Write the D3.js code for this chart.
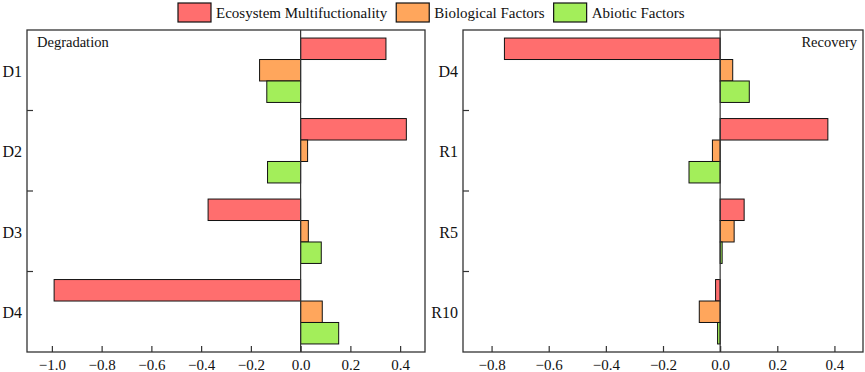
<!DOCTYPE html>
<html>
<head>
<meta charset="utf-8">
<script src="https://cdn.jsdelivr.net/npm/d3@7"></script>
<style>
  body { margin: 0; background: #fff; }
  svg text { font-family: "Liberation Serif", "Times New Roman", serif; fill: #111; }
</style>
</head>
<body>
<div id="chart-area"></div>
<script>
// Series names and colours
var seriesNames = ["Ecosystem Multifuctionality", "Biological Factors", "Abiotic Factors"];
var seriesColors = ["#ff6e6e", "#ffa65c", "#a3ee5a"];

// Degradation panel
var degCats = ["D1", "D2", "D3", "D4"];
var degEM = [0.343, 0.425, -0.372, -0.991];
var degBio = [-0.165, 0.028, 0.031, 0.087];
var degAbio = [-0.136, -0.133, 0.083, 0.153];
var degTicks = [-1.0, -0.8, -0.6, -0.4, -0.2, 0.0, 0.2, 0.4];

// Recovery panel
var recCats = ["D4", "R1", "R5", "R10"];
var recEM = [-0.755, 0.377, 0.084, -0.016];
var recBio = [0.044, -0.027, 0.049, -0.073];
var recAbio = [0.102, -0.109, 0.007, -0.009];
var recTicks = [-0.8, -0.6, -0.4, -0.2, 0.0, 0.2, 0.4];

var W = 865, H = 372;

var svg = d3.select("#chart-area")
    .append("svg")
    .attr("width", W)
    .attr("height", H);

function drawPanel(opts) {
    var x0 = opts.left, x1 = opts.right, y0 = 30, y1 = 352;
    var g = svg.append("g");

    var xScale = d3.scaleLinear().domain(opts.domain).range([x0, x1]);
    var yScale = d3.scaleBand().domain(opts.cats).range([y0, y1])
        .paddingInner(0.2).paddingOuter(0.1);
    var sub = d3.scaleBand().domain([0, 1, 2]).range([0, yScale.bandwidth()]);

    var rows = opts.cats.map(function(c, i) {
        return {cat: c, vals: [opts.em[i], opts.bio[i], opts.abio[i]]};
    });

    // bars
    var grp = g.selectAll(".cat")
        .data(rows)
        .enter()
        .append("g")
        .attr("transform", d => "translate(0," + yScale(d.cat) + ")");

    grp.selectAll("rect")
        .data(d => d.vals.map((v, k) => ({v: v, k: k})))
        .enter()
        .append("rect")
        .attr("x", d => xScale(Math.min(0, d.v)))
        .attr("width", d => Math.abs(xScale(d.v) - xScale(0)))
        .attr("y", d => sub(d.k))
        .attr("height", sub.bandwidth())
        .attr("fill", d => seriesColors[d.k])
        .attr("stroke", "#111")
        .attr("stroke-width", 1);

    // zero line
    g.append("line")
        .attr("x1", xScale(0)).attr("x2", xScale(0))
        .attr("y1", y0).attr("y2", y1)
        .attr("stroke", "#333").attr("stroke-width", 1.2);

    // x axis with inward ticks
    var xAxis = g.append("g")
        .attr("transform", "translate(0," + y1 + ")")
        .call(d3.axisBottom(xScale)
            .tickValues(opts.ticks)
            .tickFormat(d3.format(".1f"))
            .tickSizeInner(-6)
            .tickSizeOuter(0)
            .tickPadding(7));
    xAxis.select(".domain").remove();
    xAxis.selectAll(".tick line").attr("stroke", "#333").attr("stroke-width", 1.2);
    xAxis.selectAll("text")
        .attr("font-family", "Liberation Serif")
        .attr("font-size", 15)
        .attr("fill", "#111");

    // y ticks at band boundaries, pointing inward
    var bounds = opts.cats.slice(1).map(c => yScale(c) - yScale.step() * yScale.paddingInner() / 2);
    g.selectAll(".ytick")
        .data(bounds)
        .enter()
        .append("line")
        .attr("x1", x0).attr("x2", x0 + 6)
        .attr("y1", d => d).attr("y2", d => d)
        .attr("stroke", "#333").attr("stroke-width", 1.2);

    // category labels
    g.selectAll(".ylab")
        .data(opts.cats)
        .enter()
        .append("text")
        .attr("x", x0 - 5)
        .attr("y", d => yScale(d) + yScale.bandwidth() / 2)
        .attr("dy", "0.4em")
        .attr("text-anchor", "end")
        .attr("font-size", 16)
        .text(d => d);

    // frame
    g.append("rect")
        .attr("x", x0).attr("y", y0)
        .attr("width", x1 - x0).attr("height", y1 - y0)
        .attr("fill", "none")
        .attr("stroke", "#333").attr("stroke-width", 1.3);

    // panel title
    g.append("text")
        .attr("x", opts.titleRight ? x1 - 6 : x0 + 10)
        .attr("y", 47)
        .attr("text-anchor", opts.titleRight ? "end" : "start")
        .attr("font-size", 14.5)
        .text(opts.title);
}

drawPanel({left: 27, right: 425, domain: [-1.1, 0.5], cats: degCats,
    em: degEM, bio: degBio, abio: degAbio, ticks: degTicks,
    title: "Degradation", titleRight: false});

drawPanel({left: 463, right: 863, domain: [-0.9, 0.5], cats: recCats,
    em: recEM, bio: recBio, abio: recAbio, ticks: recTicks,
    title: "Recovery", titleRight: true});

// legend
var legend = svg.append("g");
var lx = 178;
seriesNames.forEach(function(name, i) {
    legend.append("rect")
        .attr("x", lx).attr("y", 3)
        .attr("width", 33).attr("height", 19)
        .attr("fill", seriesColors[i])
        .attr("stroke", "#111").attr("stroke-width", 1.2);
    var t = legend.append("text")
        .attr("x", lx + 38)
        .attr("y", 18)
        .attr("font-size", 15)
        .text(name);
    lx += 38 + t.node().getComputedTextLength() + 9;
});
</script>
</body>
</html>
